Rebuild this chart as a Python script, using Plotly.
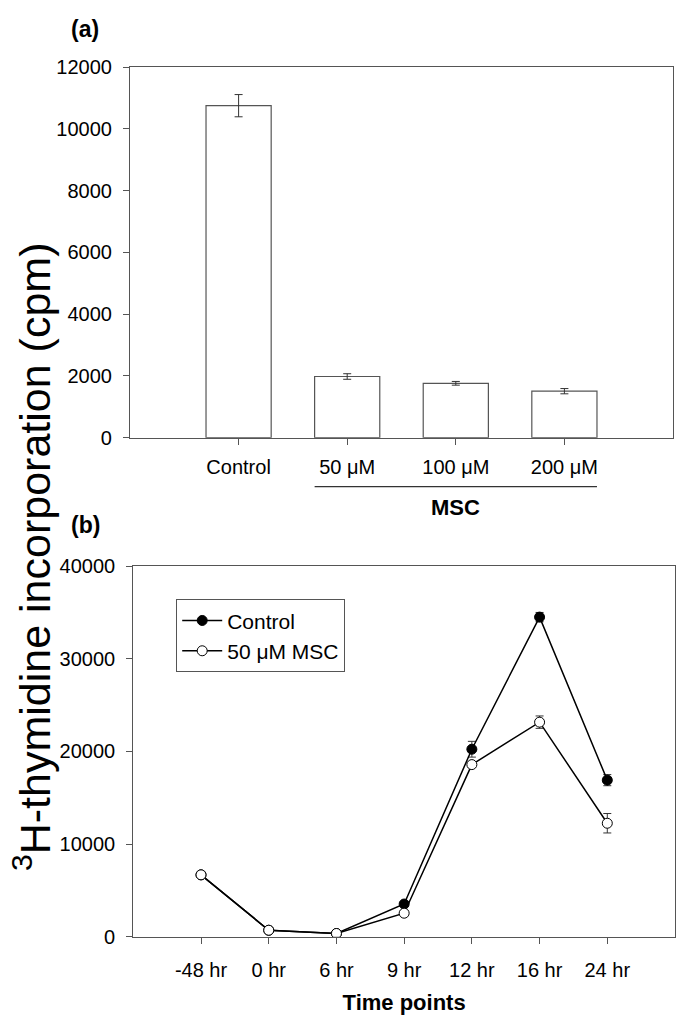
import plotly.graph_objects as go

# panel (a): bars
categories = ["Control", "50 μM", "100 μM", "200 μM"]
bar_values = [10750, 1980, 1760, 1505]
bar_errors = [360, 90, 60, 85]

# panel (b): time course
time_labels = ["-48 hr", "0 hr", "6 hr", "9 hr", "12 hr", "16 hr", "24 hr"]
control = [6680, 700, 350, 3530, 20240, 34500, 16900]
control_err = [0, 0, 0, 0, 850, 500, 600]
msc = [6680, 700, 350, 2540, 18580, 23160, 12250]
msc_err = [0, 0, 0, 300, 300, 670, 1050]

W, H = 685, 1027
FONT = "Arial, Liberation Sans, sans-serif"
AX = "#555555"


def px_x(p):
    return p / W


def px_y(p):
    return 1 - p / H


fig = go.Figure()

fig.add_bar(
    x=categories, y=bar_values,
    error_y=dict(type="data", array=bar_errors, color="#333333", thickness=1, width=4),
    marker=dict(color="white", line=dict(color=AX, width=1.2)),
    width=0.6, showlegend=False, xaxis="x", yaxis="y",
)

fig.add_scatter(
    x=time_labels, y=control, mode="lines+markers", name="Control",
    line=dict(color="black", width=1.5),
    marker=dict(symbol="circle", size=10, color="black", line=dict(color="black", width=1)),
    error_y=dict(type="data", array=control_err, color="#333333", thickness=1, width=4),
    xaxis="x2", yaxis="y2",
)
fig.add_scatter(
    x=time_labels, y=msc, mode="lines+markers", name="50 μM MSC",
    line=dict(color="black", width=1.5),
    marker=dict(symbol="circle", size=10, color="white", line=dict(color="black", width=1)),
    error_y=dict(type="data", array=msc_err, color="#333333", thickness=1, width=4),
    xaxis="x2", yaxis="y2",
)

axis_common = dict(
    showline=True, linecolor=AX, linewidth=1.2, mirror=True,
    ticks="outside", ticklen=6, tickcolor=AX, tickwidth=1.2,
    showgrid=False, zeroline=False, tickformat="d",
    tickfont=dict(family=FONT, size=20, color="black"),
)

fig.update_layout(
    width=W, height=H,
    margin=dict(l=0, r=0, t=0, b=0),
    plot_bgcolor="white", paper_bgcolor="white",
    font=dict(family=FONT, color="black"),
    xaxis=dict(axis_common, domain=[px_x(130), px_x(673)], anchor="y",
               type="category", range=[-1, 4], ticklabelstandoff=5),
    yaxis=dict(axis_common, domain=[px_y(436), px_y(57.3)], anchor="x",
               range=[0, 12000], dtick=2000, ticklabelstandoff=7),
    xaxis2=dict(axis_common, domain=[px_x(133.3), px_x(675)], anchor="y2",
                type="category", range=[-1, 7], ticklabelstandoff=9,
                title=dict(text="<b>Time points</b>", font=dict(family=FONT, size=22), standoff=14)),
    yaxis2=dict(axis_common, domain=[px_y(946), px_y(567.3)], anchor="x2",
                range=[0, 40000], dtick=10000, ticklabelstandoff=7),
    legend=dict(
        x=px_x(176), y=px_y(601), xanchor="left", yanchor="top",
        bordercolor=AX, borderwidth=1.2, bgcolor="white",
        font=dict(family=FONT, size=21),
        tracegroupgap=0, itemwidth=40,
    ),
)

# MSC bracket under the treatment bars
fig.add_shape(type="line", xref="x", yref="paper", x0=0.7, x1=3.3,
              y0=px_y(486), y1=px_y(486), line=dict(color="#333333", width=1.2))
fig.add_annotation(text="<b>MSC</b>", xref="x", yref="paper", x=2, y=px_y(507),
                   xanchor="center", yanchor="middle",
                   showarrow=False, font=dict(family=FONT, size=22))

fig.add_annotation(text="<b>(a)</b>", xref="paper", yref="paper", x=px_x(85), y=px_y(18),
                   xanchor="center", yanchor="middle",
                   showarrow=False, font=dict(family=FONT, size=23))
fig.add_annotation(text="<b>(b)</b>", xref="paper", yref="paper", x=px_x(85), y=px_y(525),
                   xanchor="center", yanchor="middle",
                   showarrow=False, font=dict(family=FONT, size=23))

fig.add_annotation(text="<sup>3</sup>H-thymidine incorporation (cpm)",
                   xref="paper", yref="paper", x=px_x(32), y=px_y(558),
                   xanchor="center", yanchor="middle",
                   textangle=-90, showarrow=False, font=dict(family=FONT, size=43))

fig.write_html("out.html", config={"displayModeBar": False},
               post_script="document.body.style.margin='0';")
